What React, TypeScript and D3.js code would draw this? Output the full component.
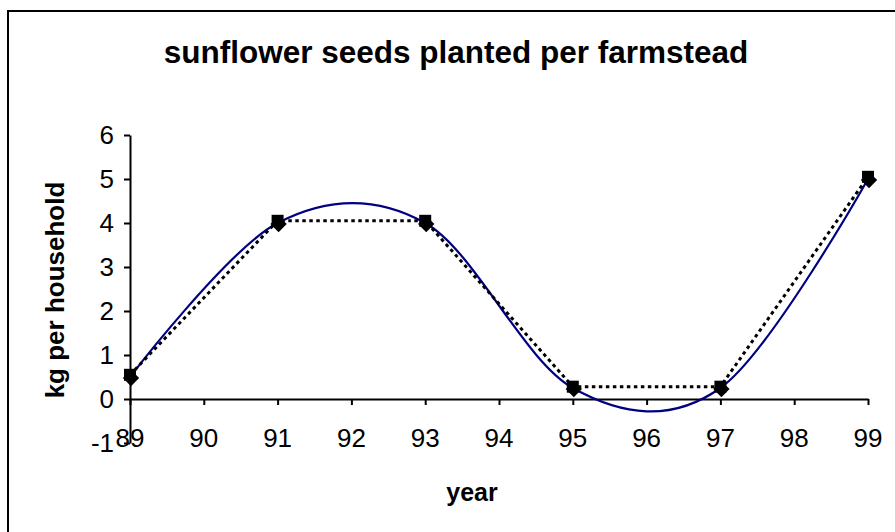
import { useEffect, useRef } from 'react';
import * as d3 from 'd3';

const years = [89, 91, 93, 95, 97, 99];
const squareValues = [0.55, 4.05, 4.05, 0.28, 0.28, 5.05];
const diamondValues = [0.5, 4, 4, 0.25, 0.25, 5];
const xTicks = [89, 90, 91, 92, 93, 94, 95, 96, 97, 98, 99];
const yTicks = [-1, 0, 1, 2, 3, 4, 5, 6];

export default function App() {
  const ref = useRef<SVGSVGElement | null>(null);

  useEffect(() => {
    const svg = d3.select(ref.current);
    svg.selectAll('*').remove();

    const font = 'Liberation Sans, Arial, sans-serif';

    // chart border (runs off right and bottom edge)
    svg.append('rect')
      .attr('x', 8).attr('y', 11)
      .attr('width', 1000).attr('height', 1000)
      .attr('fill', 'white')
      .attr('stroke', '#000').attr('stroke-width', 2);

    const x = d3.scaleLinear().domain([89, 99]).range([130, 868]);
    const y = d3.scaleLinear().domain([-1, 6]).range([443, 135]);

    // y axis
    const yAxis = svg.append('g')
      .attr('transform', `translate(${x(89)},0)`)
      .call(d3.axisLeft(y).tickValues(yTicks).tickSize(6).tickSizeOuter(0)
        .tickPadding(10).tickFormat(d => String(d)));
    yAxis.select('.domain').attr('stroke', '#000').attr('stroke-width', 2);
    yAxis.selectAll('.tick line').attr('stroke-width', 2);
    yAxis.selectAll('text')
      .attr('font-family', font).attr('font-size', 26).attr('fill', '#000');

    // x axis at zero, labels near bottom
    const xAxis = svg.append('g')
      .attr('transform', `translate(0,${y(0)})`)
      .call(d3.axisBottom(x).tickValues(xTicks).tickSize(6).tickSizeOuter(0).tickFormat(() => ''));
    xAxis.select('.domain').attr('stroke', '#000').attr('stroke-width', 2);
    xAxis.selectAll('.tick line').attr('stroke-width', 2);

    svg.append('g')
      .selectAll('text')
      .data(xTicks)
      .enter().append('text')
      .attr('x', d => x(d))
      .attr('y', 447)
      .attr('text-anchor', 'middle')
      .attr('font-family', font).attr('font-size', 26)
      .text(d => d);

    // smoothed blue series
    const smooth = d3.line<number>()
      .x((d, i) => x(years[i]))
      .y(d => y(d))
      .curve(d3.curveCardinal.tension(0));

    svg.append('path')
      .datum(diamondValues)
      .attr('fill', 'none')
      .attr('stroke', '#000080')
      .attr('stroke-width', 2.2)
      .attr('d', smooth);

    // dotted black series
    const straight = d3.line<number>()
      .x((d, i) => x(years[i]))
      .y(d => y(d));

    svg.append('path')
      .datum(squareValues)
      .attr('fill', 'none')
      .attr('stroke', '#000')
      .attr('stroke-width', 3)
      .attr('stroke-dasharray', '3.5,3.5')
      .attr('d', straight);

    // markers
    svg.selectAll('.diamond')
      .data(diamondValues)
      .enter().append('path')
      .attr('class', 'diamond')
      .attr('d', d3.symbol(d3.symbolDiamond2, 170)())
      .attr('transform', (d, i) => `translate(${x(years[i]) + 1},${y(d) + 1})`)
      .attr('fill', '#000');

    svg.selectAll('.square')
      .data(squareValues)
      .enter().append('rect')
      .attr('class', 'square')
      .attr('x', (d, i) => x(years[i]) - 6)
      .attr('y', d => y(d) - 6)
      .attr('width', 12).attr('height', 12)
      .attr('fill', '#000');

    // titles
    svg.append('text')
      .attr('x', 456).attr('y', 63)
      .attr('text-anchor', 'middle')
      .attr('font-family', font).attr('font-weight', 'bold').attr('font-size', 31.5)
      .text('sunflower seeds planted per farmstead');

    svg.append('text')
      .attr('transform', 'translate(64,290) rotate(-90)')
      .attr('text-anchor', 'middle')
      .attr('font-family', font).attr('font-weight', 'bold').attr('font-size', 26)
      .text('kg per household');

    svg.append('text')
      .attr('x', 472).attr('y', 501)
      .attr('text-anchor', 'middle')
      .attr('font-family', font).attr('font-weight', 'bold').attr('font-size', 25)
      .text('year');
  }, []);

  return (
    <svg ref={ref} width={895} height={532}
      style={{ position: 'absolute', left: 0, top: 0, background: 'white' }} />
  );
}
